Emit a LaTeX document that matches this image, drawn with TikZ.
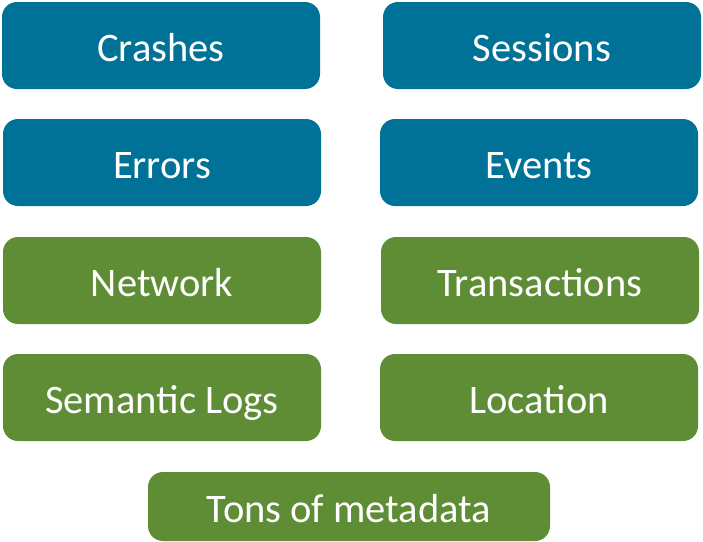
\documentclass[tikz,border=0pt]{standalone}
\usepackage{fontspec}
\setmainfont{Carlito}
\definecolor{boxblue}{RGB}{0,114,152}
\definecolor{boxgreen}{RGB}{94,141,54}
\begin{document}
\begin{tikzpicture}[x=1pt,y=-1pt,
  tile/.style={rectangle,rounded corners=15pt,inner sep=0pt,text=white,
    minimum width=318pt,minimum height=87pt,
    font=\fontsize{40.5}{42}\selectfont,text height=32pt,text depth=0pt},
  bluetile/.style={tile,fill=boxblue},
  greentile/.style={tile,fill=boxgreen}]
\useasboundingbox (0,0) rectangle (703,541);
\node[bluetile] (crashes) at (161,45.5) {Crashes};
\node[bluetile] (sessions) at (542,45.5) {Sessions};
\node[bluetile] (errors) at (162,162.5) {Errors};
\node[bluetile] (events) at (539,162.5) {Events};
\node[greentile] (network) at (162,280.5) {Network};
\node[greentile] (transactions) at (540,280.5) {Transactions};
\node[greentile] (semlogs) at (162,397.5) {Semantic Logs};
\node[greentile] (location) at (539,397.5) {Location};
\node[greentile,minimum width=402pt,minimum height=69pt] (tons) at (349,506.5) {Tons of metadata};
\end{tikzpicture}
\end{document}
